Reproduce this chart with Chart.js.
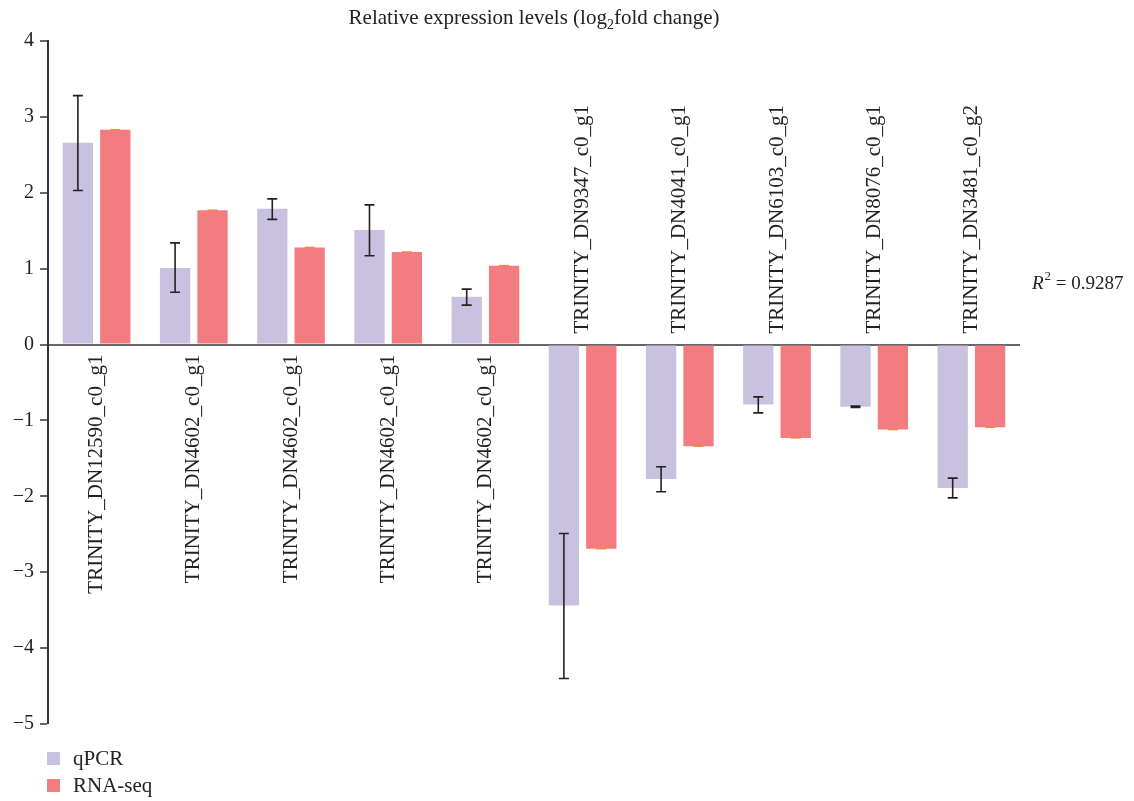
<!DOCTYPE html>
<html>
<head>
<meta charset="utf-8">
<script src="https://cdn.jsdelivr.net/npm/chart.js@4/dist/chart.umd.min.js"></script>
<style>
  html, body { margin: 0; padding: 0; background: #fff; }
  #wrap { width: 1134px; height: 801px; }
</style>
</head>
<body>
<div id="wrap"><canvas id="expChart" width="1134" height="801"></canvas></div>
<script>
const genes = [
  "TRINITY_DN12590_c0_g1", "TRINITY_DN4602_c0_g1", "TRINITY_DN4602_c0_g1",
  "TRINITY_DN4602_c0_g1", "TRINITY_DN4602_c0_g1", "TRINITY_DN9347_c0_g1",
  "TRINITY_DN4041_c0_g1", "TRINITY_DN6103_c0_g1", "TRINITY_DN8076_c0_g1",
  "TRINITY_DN3481_c0_g2"
];
const qpcr = [2.66, 1.01, 1.79, 1.51, 0.63, -3.44, -1.77, -0.79, -0.82, -1.89];
const qpcrLow = [2.03, 0.69, 1.65, 1.17, 0.52, -4.40, -1.94, -0.90, -0.83, -2.02];
const qpcrHigh = [3.28, 1.34, 1.92, 1.84, 0.73, -2.49, -1.61, -0.69, -0.81, -1.76];
const rnaseq = [2.83, 1.77, 1.28, 1.22, 1.04, -2.69, -1.34, -1.23, -1.12, -1.09];
const yTicks = [-5, -4, -3, -2, -1, 0, 1, 2, 3, 4];

const FONT = "'Liberation Serif', 'Times New Roman', serif";
const qColor = "#c9c1e0";
const rColor = "#f27c80";

// error bars, rotated gene labels, title, R2 text and legend
const extras = {
  id: "extras",
  afterDatasetsDraw(chart) {
    const ctx = chart.ctx;
    const y = chart.scales.y;
    const x = chart.scales.x;
    const zeroY = y.getPixelForValue(0);
    const qMeta = chart.getDatasetMeta(0);
    const rMeta = chart.getDatasetMeta(1);

    ctx.save();
    // qPCR error bars
    ctx.strokeStyle = "#222";
    ctx.lineWidth = 1.6;
    qpcr.forEach((v, i) => {
      const bx = qMeta.data[i].x;
      const y1 = y.getPixelForValue(qpcrLow[i]);
      const y2 = y.getPixelForValue(qpcrHigh[i]);
      ctx.beginPath();
      ctx.moveTo(bx, y1); ctx.lineTo(bx, y2);
      ctx.moveTo(bx - 5, y1); ctx.lineTo(bx + 5, y1);
      ctx.moveTo(bx - 5, y2); ctx.lineTo(bx + 5, y2);
      ctx.stroke();
    });
    // RNA-seq (zero-width) error caps
    ctx.strokeStyle = "#f08a3c";
    ctx.lineWidth = 1.5;
    rnaseq.forEach((v, i) => {
      const bx = rMeta.data[i].x;
      const yy = y.getPixelForValue(v);
      ctx.beginPath();
      ctx.moveTo(bx - 5, yy); ctx.lineTo(bx + 5, yy);
      ctx.stroke();
    });

    // gene labels
    ctx.fillStyle = "#222";
    ctx.font = "21px " + FONT;
    ctx.textBaseline = "middle";
    genes.forEach((g, i) => {
      const cx = x.getPixelForValue(i);
      const up = qpcr[i] < 0;
      ctx.save();
      ctx.translate(cx, up ? zeroY - 11 : zeroY + 10);
      ctx.rotate(-Math.PI / 2);
      ctx.textAlign = up ? "left" : "right";
      ctx.fillText(g, 0, 0);
      ctx.restore();
    });

    // title with subscript
    const mid = (chart.chartArea.left + chart.chartArea.right) / 2;
    const t1 = "Relative expression levels (log";
    const t2 = "2";
    const t3 = "fold change)";
    ctx.font = "21px " + FONT;
    const w1 = ctx.measureText(t1).width;
    const w3 = ctx.measureText(t3).width;
    ctx.font = "14px " + FONT;
    const w2 = ctx.measureText(t2).width;
    let tx = mid - (w1 + w2 + w3) / 2;
    ctx.textAlign = "left";
    ctx.textBaseline = "alphabetic";
    ctx.font = "21px " + FONT;
    ctx.fillText(t1, tx, 24);
    tx += w1;
    ctx.font = "14px " + FONT;
    ctx.fillText(t2, tx, 29);
    tx += w2;
    ctx.font = "21px " + FONT;
    ctx.fillText(t3, tx, 24);

    // R2 annotation
    let rx = 1032;
    ctx.font = "italic 19px " + FONT;
    ctx.fillText("R", rx, 289);
    rx += ctx.measureText("R").width + 1;
    ctx.font = "13px " + FONT;
    ctx.fillText("2", rx, 280);
    rx += ctx.measureText("2").width;
    ctx.font = "19px " + FONT;
    ctx.fillText(" = 0.9287", rx, 289);

    // legend
    chart.data.datasets.forEach((ds, i) => {
      const ly = 752 + i * 27;
      ctx.fillStyle = ds.backgroundColor;
      ctx.fillRect(47, ly, 13, 13);
      ctx.fillStyle = "#222";
      ctx.font = "21px " + FONT;
      ctx.textBaseline = "middle";
      ctx.fillText(ds.label, 73, ly + 7);
    });
    ctx.restore();
  }
};

new Chart(document.getElementById("expChart").getContext("2d"), {
  type: "bar",
  data: {
    labels: genes,
    datasets: [
      { label: "qPCR", data: qpcr, backgroundColor: qColor },
      { label: "RNA-seq", data: rnaseq, backgroundColor: rColor }
    ]
  },
  options: {
    responsive: false,
    animation: false,
    datasets: {
      bar: { categoryPercentage: 0.77, barPercentage: 0.81 }
    },
    layout: { padding: { top: 41, bottom: 77, right: 114, left: 0 } },
    plugins: {
      legend: { display: false },
      tooltip: { enabled: false }
    },
    scales: {
      x: { display: false },
      y: {
        min: -5,
        max: 4,
        afterFit(s) { s.width = 48; },
        afterBuildTicks(s) { s.ticks = yTicks.map(v => ({ value: v })); },
        border: { display: true, color: "#333", width: 2 },
        grid: {
          color: c => (c.tick && c.tick.value === 0 ? "#666" : "rgba(0,0,0,0)"),
          lineWidth: c => (c.tick && c.tick.value === 0 ? 2 : 0),
          tickColor: "#333",
          tickWidth: 1.5,
          tickLength: 8
        },
        ticks: {
          color: "#222",
          padding: 6,
          font: { family: FONT, size: 20 },
          callback: v => String(v).replace("-", "\u2212")
        }
      }
    }
  },
  plugins: [extras]
});
</script>
</body>
</html>
